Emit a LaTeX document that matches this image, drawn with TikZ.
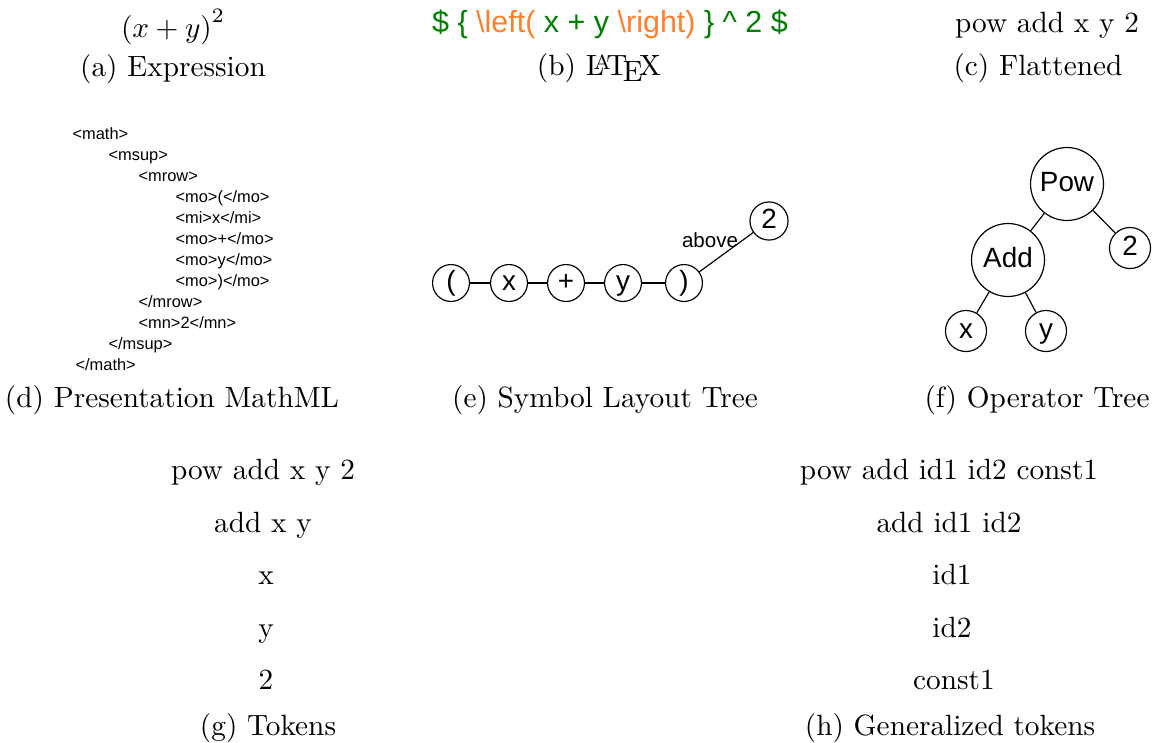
\documentclass[tikz,border=0pt]{standalone}
\usepackage{fontspec}
\newfontfamily\arialfont{Liberation Sans}
\definecolor{texgreen}{RGB}{0,128,0}
\definecolor{texorange}{RGB}{255,127,42}
\newcommand{\subcap}[3]{\node[anchor=base] (#1) at #2 {#3};}
\newcommand{\xmlline}[3]{\node[xmltext] (#1) at #2 {#3};}
\newcommand{\tokline}[3]{\node[anchor=base] (#1) at #2 {#3};}

\begin{document}
\begin{tikzpicture}[x=0.012cm,y=-0.012cm,
		xmltext/.style={anchor=base west,inner sep=0pt,font=\arialfont\fontsize{5.6}{6.7}\selectfont},
		sltnode/.style={circle,draw,inner sep=0pt,minimum size=12.6pt,text height=6.5pt,text depth=1.5pt,font=\arialfont\fontsize{9.5}{11}\selectfont},
		opnode/.style={circle,draw,inner sep=0pt,minimum size=14pt,text height=6.5pt,text depth=1.5pt,font=\arialfont\fontsize{9.5}{11}\selectfont},
		bigop/.style={opnode,minimum size=24.9pt}]
		\useasboundingbox (0,0) rectangle (1153,742);
		\node[anchor=base] (expr) at (173,37) {$\left(x+y\right)^2$};
		\node[anchor=base,inner sep=0pt,text=texgreen,font=\arialfont\fontsize{10.4}{12}\selectfont] (src) at (610,32) {\$ \{ \textcolor{texorange}{\textbackslash left(} x + y \textcolor{texorange}{\textbackslash right)} \} \textasciicircum{} 2 \$};
		\node[anchor=base] (flat) at (1047,32) {pow add x y 2};
		\subcap{capa}{(173,76)}{(a) Expression}
		\subcap{capb}{(599,75)}{(b) \LaTeX}
		\subcap{capc}{(1038,75)}{(c) Flattened}
		\xmlline{m1}{(72,139)}{<math>}
		\xmlline{m2}{(108,160)}{<msup>}
		\xmlline{m3}{(138,181)}{<mrow>}
		\xmlline{m4}{(175,202)}{<mo>(</mo>}
		\xmlline{m5}{(175,223)}{<mi>x</mi>}
		\xmlline{m6}{(175,244)}{<mo>+</mo>}
		\xmlline{m7}{(175,265)}{<mo>y</mo>}
		\xmlline{m8}{(175,286)}{<mo>)</mo>}
		\xmlline{m9}{(138,307)}{</mrow>}
		\xmlline{m10}{(138,328)}{<mn>2</mn>}
		\xmlline{m11}{(108,349)}{</msup>}
		\xmlline{m12}{(75,370)}{</math>}
		\node[sltnode] (lp) at (451,283) {(};
		\node[sltnode] (sx) at (509,283) {x};
		\node[sltnode] (plus) at (566,283) {+};
		\node[sltnode] (sy) at (623,283) {y};
		\node[sltnode] (rp) at (684,283) {)};
		\node[sltnode,minimum size=13pt] (stwo) at (769,221) {2};
		\node[anchor=base,inner sep=0pt,font=\arialfont\fontsize{7}{8}\selectfont] (abv) at (710,247) {above};
		\foreach \a/\b in {lp/sx,sx/plus,plus/sy,sy/rp,rp/stwo}
			\draw (\a) -- (\b);
		\node[bigop] (pow) at (1067,184) {Pow};
		\node[bigop] (add) at (1008,260) {Add};
		\node[opnode] (otwo) at (1130,248) {2};
		\node[opnode] (ox) at (966,331) {x};
		\node[opnode] (oy) at (1046,331) {y};
		\foreach \a/\b in {pow/add,pow/otwo,add/ox,add/oy}
			\draw (\a) -- (\b);
		\subcap{capd}{(172,407)}{(d) Presentation MathML}
		\subcap{cape}{(605,407)}{(e) Symbol Layout Tree}
		\subcap{capf}{(1037,407)}{(f) Operator Tree}
		\tokline{g1}{(263,479)}{pow add x y 2}
		\tokline{g2}{(263,532)}{add x y}
		\tokline{g3}{(266,584)}{x}
		\tokline{g4}{(266,637)}{y}
		\tokline{g5}{(266,689)}{2}
		\tokline{h1}{(949,479)}{pow add id1 id2 const1}
		\tokline{h2}{(949,532)}{add id1 id2}
		\tokline{h3}{(952,584)}{id1}
		\tokline{h4}{(952,637)}{id2}
		\tokline{h5}{(954,689)}{const1}
		\subcap{capg}{(268,735)}{(g) Tokens}
		\subcap{caph}{(950,735)}{(h) Generalized tokens}
\end{tikzpicture}
\end{document}
